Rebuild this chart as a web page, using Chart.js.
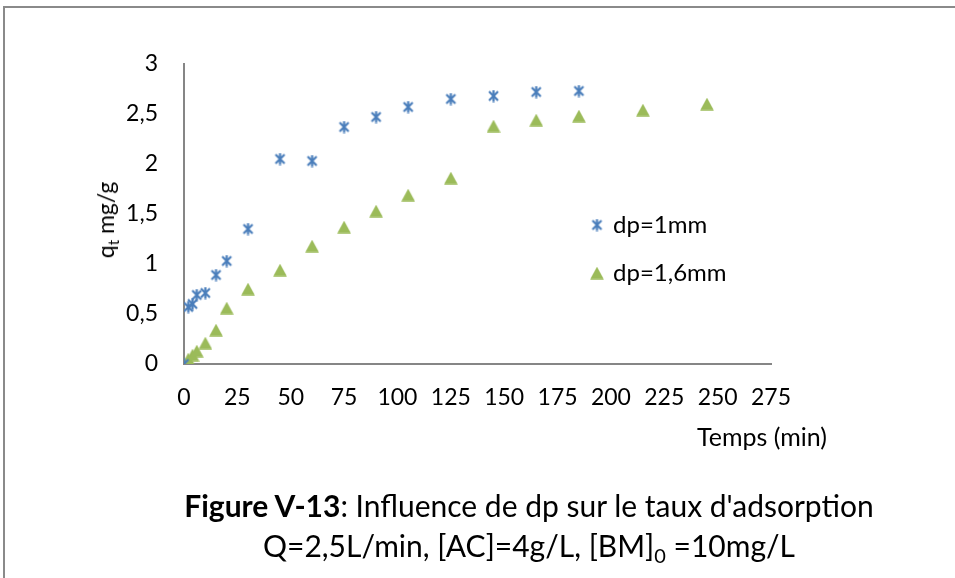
<!DOCTYPE html>
<html>
<head>
<meta charset="utf-8">
<script src="https://cdn.jsdelivr.net/npm/chart.js@4.4.1/dist/chart.umd.min.js"></script>
<style>
  html, body { margin: 0; padding: 0; background: #fff; }
  #wrap { position: relative; width: 955px; height: 578px; overflow: hidden; background: #fff; }
  #frame { position: absolute; left: 3px; top: 6px; width: 1000px; height: 700px;
           border-top: 2px solid #8a8a8a; border-left: 2px solid #8a8a8a; }
  canvas { position: absolute; left: 0; top: 0; }
  .txt { position: absolute; font-family: Lato, "Open Sans", sans-serif; color: #000; white-space: nowrap; line-height: 1.2; }
  #ytitle { left: 107px; top: 220px; font-size: 23px; transform: translate(-50%, -50%) rotate(-90deg); }
  #ytitle sub { font-size: 15px; vertical-align: -5px; }
  #xtitle { left: 697px; top: 421px; font-size: 25px; }
  #cap1 { left: 0; width: 1058px; text-align: center; top: 487px; font-size: 30px; }
  #cap2 { left: 0; width: 1058px; text-align: center; top: 527px; font-size: 30px; }
  #cap2 sub { font-size: 20px; vertical-align: -6px; }
</style>
</head>
<body>
<div id="wrap">
  <div id="frame"></div>
  <canvas id="c" width="955" height="578"></canvas>
  <div class="txt" id="ytitle">q<sub>t</sub> mg/g</div>
  <div class="txt" id="xtitle">Temps (min)</div>
  <div class="txt" id="cap1"><b>Figure V-13</b>: Influence de dp sur le taux d'adsorption</div>
  <div class="txt" id="cap2">Q=2,5L/min, [AC]=4g/L, [BM]<sub>0</sub> =10mg/L</div>
</div>
<script>
// ---- data ----
const seriesNames = ['dp=1mm', 'dp=1,6mm'];
const time1 = [0, 2, 4, 6, 10, 15, 20, 30, 45, 60, 75, 90, 105, 125, 145, 165, 185];
const qt1   = [0, 0.57, 0.60, 0.69, 0.71, 0.89, 1.03, 1.35, 2.05, 2.03, 2.37, 2.47, 2.57, 2.65, 2.68, 2.72, 2.73];
const time2 = [0, 2, 4, 6, 10, 15, 20, 30, 45, 60, 75, 90, 105, 125, 145, 165, 185, 215, 245];
const qt2   = [0, 0.05, 0.09, 0.13, 0.21, 0.34, 0.56, 0.75, 0.94, 1.18, 1.37, 1.53, 1.69, 1.86, 2.38, 2.44, 2.48, 2.54, 2.60];
const xTickLabels = ['0', '25', '50', '75', '100', '125', '150', '175', '200', '225', '250', '275'];
const yTickLabels = ['0', '0,5', '1', '1,5', '2', '2,5', '3'];

// ---- marker images ----
function starMarker(color) {
  const c = document.createElement('canvas');
  c.width = 13; c.height = 13;
  const g = c.getContext('2d');
  g.strokeStyle = color; g.lineWidth = 2.2; g.lineCap = 'butt';
  g.beginPath();
  g.moveTo(2, 2); g.lineTo(11, 11);
  g.moveTo(11, 2); g.lineTo(2, 11);
  g.moveTo(6.5, 0.5); g.lineTo(6.5, 12.5);
  g.stroke();
  return c;
}
function triMarker(color) {
  const c = document.createElement('canvas');
  c.width = 14; c.height = 13;
  const g = c.getContext('2d');
  g.fillStyle = color;
  g.beginPath();
  g.moveTo(7, 0.3); g.lineTo(13.8, 12.7); g.lineTo(0.2, 12.7); g.closePath();
  g.fill();
  return c;
}
const blue = '#4A7EBB', green = '#9BBB59';
const starImg = starMarker(blue);
const triImg = triMarker(green);

const FONT = { family: 'Lato, "Open Sans", sans-serif', size: 23 };
const LEGEND_FONT = { family: 'Lato, "Open Sans", sans-serif', size: 24 };
const AXIS = '#868686';

// place the legend inside the plot area, at the right
const legendPlace = {
  id: 'legendPlace',
  afterLayout(chart) {
    const lg = chart.legend, ca = chart.chartArea;
    if (!lg) return;
    const w = lg.width, h = lg.height;
    lg.left = ca.left + 385;
    lg.top = ca.top + 125;
    lg.right = lg.left + w;
    lg.bottom = lg.top + h;
  }
};

new Chart(document.getElementById('c'), {
  type: 'scatter',
  data: {
    datasets: [
      { label: seriesNames[0], data: time1.map((t, i) => ({ x: t, y: qt1[i] })),
        pointStyle: starImg, pointRadius: 6, borderColor: blue, backgroundColor: blue, showLine: false },
      { label: seriesNames[1], data: time2.map((t, i) => ({ x: t, y: qt2[i] })),
        pointStyle: triImg, pointRadius: 7, borderColor: green, backgroundColor: green, showLine: false }
    ]
  },
  options: {
    responsive: false,
    animation: false,
    devicePixelRatio: 1,
    layout: { padding: { left: 0, top: 64, right: 184, bottom: 0 } },
    scales: {
      x: {
        type: 'linear', min: 0, max: 275,
        afterFit(s) { s.height = 214; },
        ticks: { stepSize: 25, autoSkip: false, maxRotation: 0, color: '#000', font: FONT, padding: 20,
                 callback: (v, i) => xTickLabels[i] },
        grid: { display: false, drawTicks: false, tickLength: 0 },
        border: { display: true, color: AXIS, width: 2 }
      },
      y: {
        min: 0, max: 3,
        afterFit(s) { s.width = 184; },
        ticks: { stepSize: 0.5, color: '#000', font: FONT, padding: 26,
                 callback: (v, i) => yTickLabels[i] },
        grid: { display: false, drawTicks: false, tickLength: 0 },
        border: { display: true, color: AXIS, width: 2 }
      }
    },
    plugins: {
      legend: {
        position: 'chartArea', align: 'start',
        labels: { usePointStyle: true, pointStyleWidth: 8, padding: 24, color: '#000', font: LEGEND_FONT }
      },
      tooltip: { enabled: false }
    }
  },
  plugins: [legendPlace]
});
</script>
</body>
</html>
